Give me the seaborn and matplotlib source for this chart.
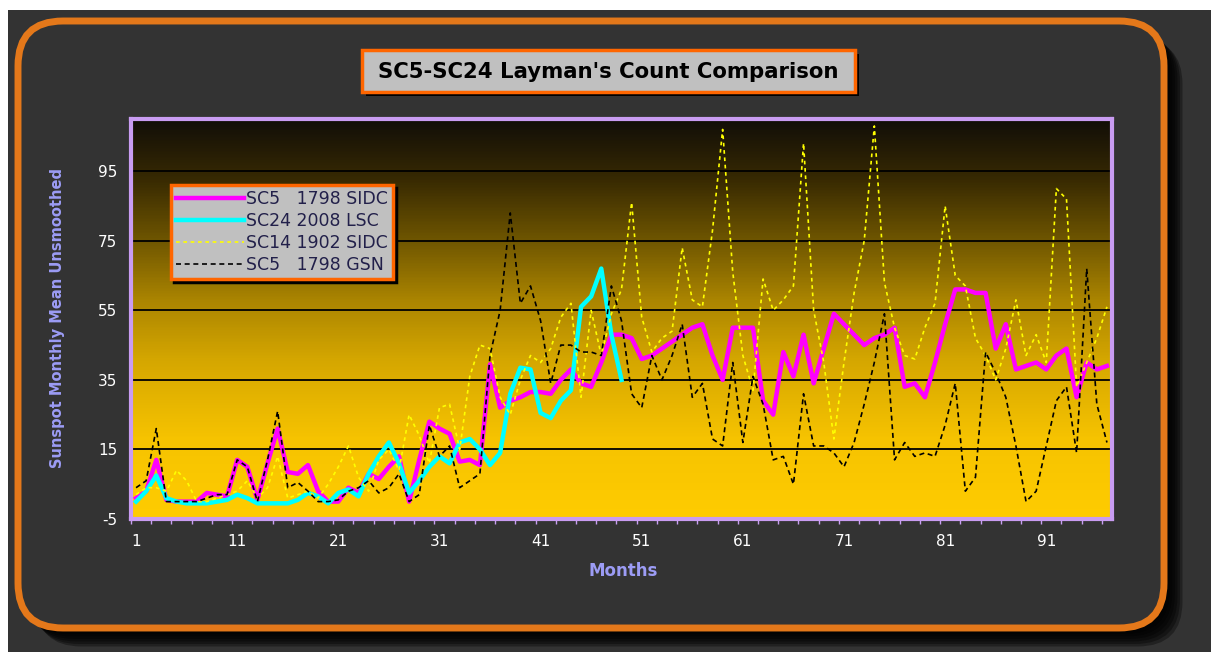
import numpy as np
import pandas as pd
import matplotlib
matplotlib.use("Agg")
import matplotlib.pyplot as plt
import seaborn as sns
from matplotlib.patches import FancyBboxPatch, Rectangle
from matplotlib.colors import LinearSegmentedColormap

plt.rcParams["axes.unicode_minus"] = False

# ---------------- data ----------------
months = list(range(1, 98))

sc5_sidc = [1, 3, 12, 0.5, 0, 0, 0, 2.5, 2, 1.5,
            12, 10, 0.5, 11, 21, 8.5, 8, 10.5, 3, 0,
            0, 4, 2.5, 8, 6.5, 10, 13, 0, 12, 23,
            21, 19.5, 11.5, 12, 10.5, 39.5, 27, 29, 30, 31.5,
            31.5, 31, 35, 38, 34, 33, 40, 48, 48, 47,
            41, 42, 44, 46, 48, 50, 51, 42, 35, 50,
            50, 50, 29, 25, 43, 36, 48, 34, 44, 54,
            51, 48, 45, 47, 48, 50, 33, 34, 30, 40,
            51, 61, 61, 60, 60, 44, 51, 38, 39, 40,
            38, 42, 44, 30, 40, 38, 39]

sc24_lsc = [0, 3, 7.5, 1, 0, -0.5, -0.5, -0.5, 0, 0.5,
            2, 1, -0.5, -0.5, -0.5, -0.5, 0.5, 2.5, 1.5, -0.5,
            2.5, 3.5, 1.5, 8, 13, 17, 11, 2.5, 6, 10,
            13, 11, 17, 18, 15, 10.5, 14, 31, 38.5, 38,
            25.5, 24, 29, 32, 56, 59, 67, 48, 35]

sc14_sidc = [2, 4, 4, 3, 9, 6, 0, 0, 1, 2,
             3, 6, 1, 4, 13, 1, 2, 3, 1, 5,
             10, 16, 7, 3, 12, 15, 9, 25, 19, 11,
             27, 28, 15, 36, 45, 44, 30, 25, 35, 42,
             40, 44, 53, 57, 30, 55, 42, 54, 61, 86,
             53, 43, 47, 49, 73, 58, 56, 78, 107, 66,
             42, 32, 64, 55, 58, 62, 103, 55, 40, 18,
             40, 60, 75, 108, 63, 50, 42, 41, 50, 57,
             85, 65, 62, 47, 42, 35, 44, 58, 42, 48,
             40, 90, 87, 33, 40, 47, 56]

sc5_gsn = [4, 6, 21, 0, 0, 0, 0, 1, 2, 2,
           12, 10, 0, 12, 26, 4, 5.5, 3, 0, 0,
           0.5, 3, 4, 6, 2.5, 4, 8, 0, 2, 22,
           13, 16, 4, 6, 8, 42, 55, 83, 57, 62,
           52, 34, 45, 45, 43, 43, 42, 62, 52, 31,
           27, 42, 35, 42, 51, 30, 34, 18, 16, 40,
           17, 36, 28, 12, 13, 5, 31, 16, 16, 14,
           10, 17, 28, 40, 54, 12, 17, 13, 14, 13,
           22, 34, 3, 7, 43, 37, 30, 16, 0, 3,
           16, 29, 33, 14, 67, 28, 17]

series_labels = ["SC5   1798 SIDC", "SC24 2008 LSC", "SC14 1902 SIDC", "SC5   1798 GSN"]
y_ticks = [-5, 15, 35, 55, 75, 95]
x_tick_labels = [1, 11, 21, 31, 41, 51, 61, 71, 81, 91]
title_text = "SC5-SC24 Layman's Count Comparison"

# ---------------- figure ----------------
W, H = 1211, 652
fig = plt.figure(figsize=(W / 100, H / 100), dpi=100)
fig.patch.set_facecolor("white")

# background frame axes in pixel coordinates
bg = fig.add_axes([0, 0, 1, 1], zorder=-10)
bg.set_xlim(0, W)
bg.set_ylim(H, 0)
bg.axis("off")
bg.add_patch(Rectangle((8, 10), W - 8, H - 10, fc="#333333", ec="none"))
# drop shadow
for i in range(6):
    bg.add_patch(FancyBboxPatch((18 + 6 + i * 2.5, 21 + 6 + i * 2.5), 1146, 607,
                                boxstyle="round,pad=0,rounding_size=45",
                                fc="black", ec="none", alpha=0.35))
bg.add_patch(FancyBboxPatch((18, 21), 1146, 607,
                            boxstyle="round,pad=0,rounding_size=45",
                            fc="#333333", ec="#E4781A", lw=5))
# title box
bg.add_patch(Rectangle((366, 54), 493, 42, fc="black", ec="none"))
bg.add_patch(Rectangle((362, 50), 493, 42, fc="#C0C0C0", ec="#FF6600", lw=2.5))
bg.text(608, 71.5, title_text, ha="center", va="center", fontsize=15.3,
        fontweight="bold", color="black", family="DejaVu Sans")

# main plot axes
ax = fig.add_axes([131 / W, 1 - 519 / H, 981 / W, 400 / H])

cmap = LinearSegmentedColormap.from_list(
    "bgfill",
    [(0.0, "#FFCC00"), (0.2, "#F6C300"), (0.4, "#D4A600"), (0.55, "#AA8400"),
     (0.7, "#6E5500"), (0.85, "#382A02"), (1.0, "#120E08")])
grad = np.linspace(1, 0, 400).reshape(-1, 1)
ax.imshow(grad, extent=[0, 1, 0, 1], transform=ax.transAxes, aspect="auto",
          cmap=cmap, vmin=0, vmax=1, origin="upper", zorder=0)

df_main = pd.DataFrame({"month": months, "sc5_sidc": sc5_sidc,
                        "sc14_sidc": sc14_sidc, "sc5_gsn": sc5_gsn})
df24 = pd.DataFrame({"month": months[:len(sc24_lsc)], "sc24": sc24_lsc})

sns.lineplot(data=df_main, x="month", y="sc5_sidc", ax=ax, color="#FF00FF",
             lw=3.2, errorbar=None, sort=False, zorder=3)
h_mag = ax.lines[-1]
sns.lineplot(data=df24, x="month", y="sc24", ax=ax, color="#00FFFF",
             lw=3.2, errorbar=None, sort=False, zorder=4)
h_cy = ax.lines[-1]
sns.lineplot(data=df_main, x="month", y="sc14_sidc", ax=ax, color="#FFFF00",
             lw=1.2, linestyle=(0, (2.2, 2.2)), errorbar=None, sort=False, zorder=5)
h_ye = ax.lines[-1]
sns.lineplot(data=df_main, x="month", y="sc5_gsn", ax=ax, color="black",
             lw=1.2, linestyle=(0, (3, 2.2)), errorbar=None, sort=False, zorder=6)
h_bk = ax.lines[-1]

ax.set_xlim(0.5, 97.5)
ax.set_ylim(-5, 110)

# axes styling
ax.set_yticks(y_ticks)
ax.set_xticks(x_tick_labels)
ax.set_xticks(np.arange(0.5, 97.0, 2), minor=True)
ax.grid(axis="y", color="black", lw=1.3, zorder=1)
ax.set_axisbelow(False)
for gl in ax.get_ygridlines():
    gl.set_zorder(1)
ax.tick_params(axis="both", which="major", length=0, labelcolor="white",
               labelsize=11)
ax.tick_params(axis="y", pad=10)
ax.tick_params(axis="x", which="major", pad=11)
ax.tick_params(axis="x", which="minor", length=3.5, width=1, color="#C9A0F2",
               direction="out")
for sp in ax.spines.values():
    sp.set_color("#C99CF2")
    sp.set_linewidth(3)
    sp.set_zorder(10)

ax.set_xlabel("Months", color="#9C9CF5", fontsize=12, fontweight="bold",
              va="center")
ax.xaxis.set_label_coords((623 - 131) / 981, (519 - 571) / 400)
ax.set_ylabel("Sunspot Monthly Mean Unsmoothed", color="#9C9CF5", fontsize=10.5,
              fontweight="bold", va="center", ha="center")
ax.yaxis.set_label_coords((57 - 131) / 981, (519 - 318) / 400)

leg = ax.legend(handles=[h_mag, h_cy, h_ye, h_bk], labels=series_labels,
                loc="upper left", bbox_to_anchor=((171 - 131) / 981, (519 - 185) / 400),
                borderaxespad=0, frameon=True, fancybox=False,
                shadow={"color": "black", "alpha": 1},
                facecolor="#C0C0C0", edgecolor="#FF6600", framealpha=1,
                fontsize=12.5, labelcolor="#22204A", handlelength=3.9,
                handletextpad=0.1, labelspacing=0.22, borderpad=0.3)
leg.get_frame().set_linewidth(2.5)
leg.set_zorder(20)

fig.savefig("out.png", dpi=100, facecolor=fig.get_facecolor())
